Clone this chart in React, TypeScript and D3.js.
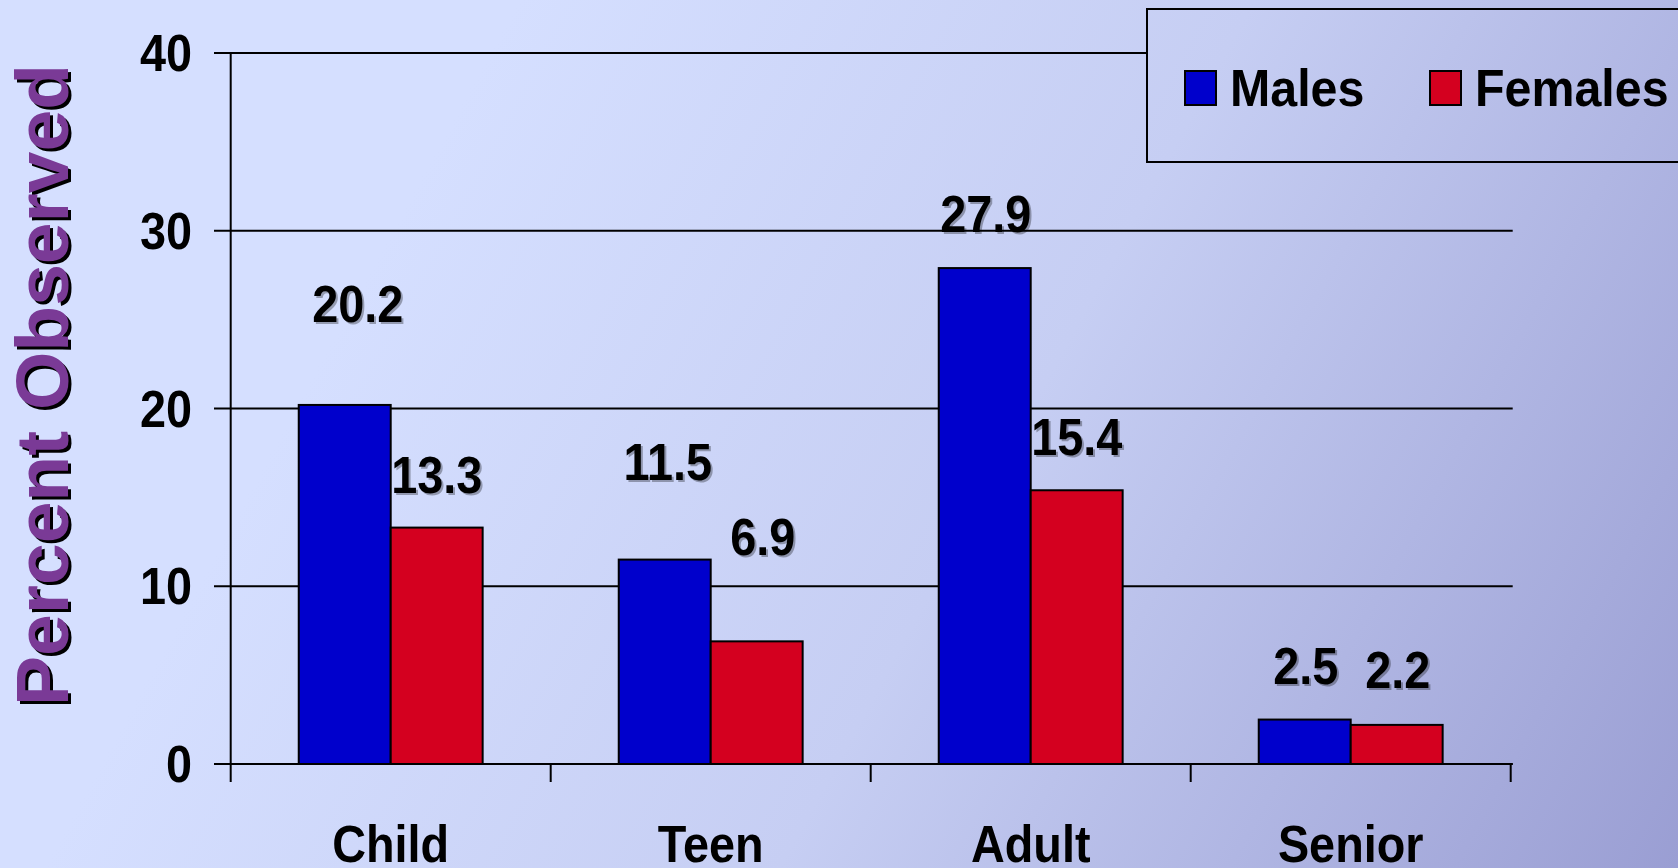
import React from "react";
import * as d3 from "d3";

// Share of people observed, by age group and sex
const categories = ["Child", "Teen", "Adult", "Senior"];
const seriesNames = ["Males", "Females"];
const males = [20.2, 11.5, 27.9, 2.5];
const females = [13.3, 6.9, 15.4, 2.2];
const yTicks = [0, 10, 20, 30, 40];

const seriesValues = [males, females];
const seriesColors = ["#0000CC", "#D4001F"];

// Hand placement of the value labels: distance of baseline above bar top, and sideways nudge
const labelLift = [
  [83, 80, 36, 36],
  [35, 86, 35, 37],
];
const labelNudge = [
  [13, 3, 1, 1],
  [0, 6, 0, 1],
];

const W = 1678;
const H = 868;
const SQUEEZE = 0.9;

export default function App() {
  const x = d3.scaleBand<string>().domain(categories).range([230.7, 1510.7]).padding(0);
  const xs = d3
    .scaleBand<string>()
    .domain(seriesNames)
    .range([0, x.bandwidth()])
    .paddingInner(0)
    .paddingOuter(0.74);
  const y = d3.scaleLinear().domain([0, 40]).range([764, 53]);

  const left = 230.7;
  const right = 1512.7;
  const tickStart = 214;

  const sq = (tx: number, ty: number, k = SQUEEZE) => `translate(${tx},${ty}) scale(${k},1)`;
  const legendX = [1185, 1430];

  return (
    <svg
      width={W}
      height={H}
      style={{ position: "fixed", left: 0, top: 0, display: "block" }}
      fontFamily="'Liberation Sans', Arial, sans-serif"
      fontWeight="bold"
    >
      <defs>
        <linearGradient id="bg" gradientUnits="userSpaceOnUse" x1={420} y1={180} x2={1678} y2={868}>
          <stop offset="0" stopColor="#D5DFFF" />
          <stop offset="0.45" stopColor="#C6CEF3" />
          <stop offset="1" stopColor="#9A9ED3" />
        </linearGradient>
      </defs>
      <rect x={0} y={0} width={W} height={H} fill="url(#bg)" />

      {/* gridlines and y ticks */}
      {yTicks.map((t) => (
        <line key={"g" + t} x1={tickStart} x2={right} y1={y(t)} y2={y(t)} stroke="#000" strokeWidth={2} />
      ))}
      {yTicks.map((t) => (
        <text
          key={"yl" + t}
          transform={sq(192, y(t) + 18)}
          textAnchor="end"
          fontSize={52}
          fill="#000"
        >
          {t}
        </text>
      ))}

      {/* y axis */}
      <line x1={left} x2={left} y1={y(40)} y2={y(0)} stroke="#000" strokeWidth={2} />

      {/* category ticks */}
      {[...categories.map((c) => x(c) as number), (x(categories[categories.length - 1]) as number) + x.bandwidth()].map(
        (px, i) => (
          <line key={"ct" + i} x1={px} x2={px} y1={y(0)} y2={y(0) + 18} stroke="#000" strokeWidth={2} />
        )
      )}

      {/* bars */}
      {seriesNames.map((s, si) =>
        categories.map((c, ci) => {
          const v = seriesValues[si][ci];
          const bx = (x(c) as number) + (xs(s) as number);
          return (
            <rect
              key={s + c}
              x={bx}
              y={y(v)}
              width={xs.bandwidth()}
              height={y(0) - y(v)}
              fill={seriesColors[si]}
              stroke="#000"
              strokeWidth={2}
            />
          );
        })
      )}

      {/* x axis line */}
      <line x1={tickStart} x2={right} y1={y(0)} y2={y(0)} stroke="#000" strokeWidth={2} />

      {/* value labels */}
      {seriesNames.map((s, si) =>
        categories.map((c, ci) => {
          const v = seriesValues[si][ci];
          const cx = (x(c) as number) + (xs(s) as number) + xs.bandwidth() / 2 + labelNudge[si][ci];
          const by = y(v) - labelLift[si][ci];
          return (
            <g key={"v" + s + c}>
              <text transform={sq(cx + 2, by + 2)} textAnchor="middle" fontSize={52} fill="#000" opacity={0.3}>
                {v.toFixed(1)}
              </text>
              <text transform={sq(cx, by)} textAnchor="middle" fontSize={52} fill="#000">
                {v.toFixed(1)}
              </text>
            </g>
          );
        })
      )}

      {/* category labels */}
      {categories.map((c) => (
        <text
          key={"cl" + c}
          transform={sq((x(c) as number) + x.bandwidth() / 2, 862)}
          textAnchor="middle"
          fontSize={52}
          fill="#000"
        >
          {c}
        </text>
      ))}

      {/* y axis title with drop shadow */}
      <text
        transform="translate(71,388) rotate(-90)"
        textAnchor="middle"
        fontSize={75}
        fill="#000"
      >
        Percent Observed
      </text>
      <text
        transform="translate(68,385) rotate(-90)"
        textAnchor="middle"
        fontSize={75}
        fill="#7A3A96"
      >
        Percent Observed
      </text>

      {/* legend */}
      <rect x={1147} y={9} width={600} height={153} fill="url(#bg)" stroke="#000" strokeWidth={2} />
      {seriesNames.map((s, si) => {
        const sx = legendX[si];
        return (
          <g key={"lg" + s}>
            <rect x={sx} y={71} width={31} height={34} fill={seriesColors[si]} stroke="#000" strokeWidth={2} />
            <text transform={sq(sx + 45, 106, 0.93)} fontSize={52} fill="#000">
              {s}
            </text>
          </g>
        );
      })}
    </svg>
  );
}
